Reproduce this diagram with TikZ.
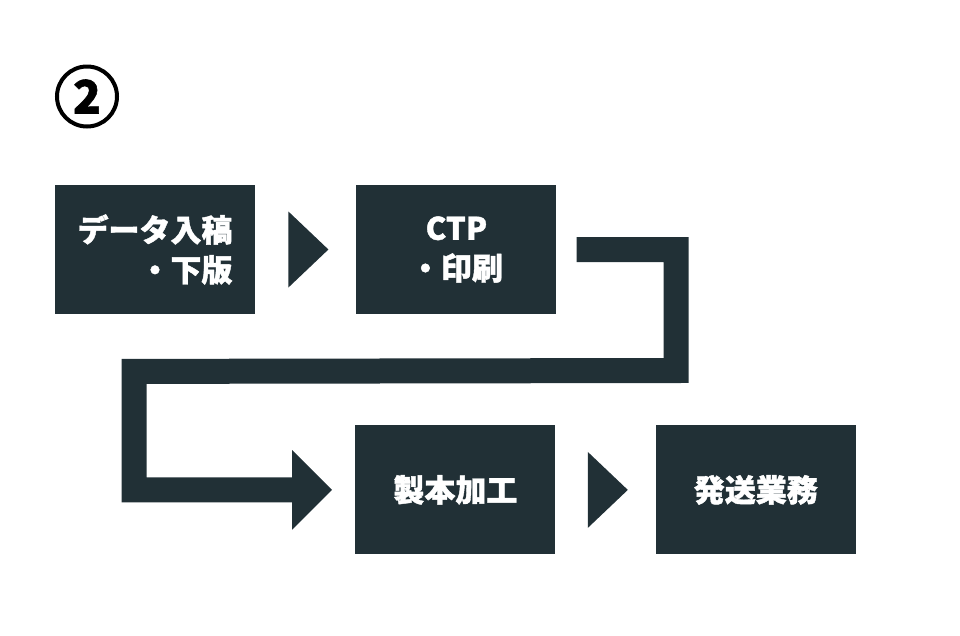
\documentclass[tikz,border=0pt]{standalone}
\usepackage{fontspec}
\usepackage{xcolor}
\usepackage{tikz}
\usetikzlibrary{arrows.meta,positioning,shapes.geometric}
\setmainfont{Noto Sans CJK JP}[BoldFeatures={FakeBold=1.3}]
\definecolor{PSlate}{HTML}{213036}

\begin{document}
\begin{tikzpicture}[
  x=1pt,y=1pt,
  node distance=101pt,
  box/.style={fill=PSlate,text=white,minimum width=200pt,minimum height=129pt,
    inner sep=0pt,font=\fontsize{31}{40}\selectfont\bfseries},
  tri/.style={isosceles triangle,isosceles triangle apex angle=55,fill=PSlate,
    minimum height=40pt,minimum width=76pt,inner sep=0pt,
    isosceles triangle stretches},
  flow/.style={line width=25pt,color=PSlate,line join=miter,
    -{Triangle[length=40pt,width=77pt]}}
]
  \useasboundingbox (0,0) rectangle (960,-635);
  \node[circle,draw,line width=4pt,minimum size=60pt,inner sep=0pt,
    font=\fontsize{46}{46}\selectfont\bfseries] (step2) at (87,-96.5) {2};
  \node[box,align=right] (input) at (155,-249.5) {データ入稿\\・下版};
  \node[box,align=center,right=of input] (print) {CTP\\・印刷};
  \node[box,below=111pt of print,xshift=-1pt] (bind) {製本加工};
  \node[box,right=100pt of bind] (ship) {発送業務};
  \node[tri,anchor=west] (next1) at ([xshift=33pt]input.east) {};
  \node[tri,anchor=west] (next2) at ([xshift=32pt]bind.east) {};
  % bent arrow from CTP down to binding
  \coordinate (flowStart) at ([xshift=20pt]print.east);
  \coordinate (flowEnd) at ([xshift=-23pt]bind.west);
  \draw[flow] (flowStart) -- ++(99.5,0) -- ++(0,-121)
    -- ([yshift=118.5pt]flowEnd -| 134,0) -- (flowEnd -| 134,0) -- (flowEnd);
\end{tikzpicture}
\end{document}
